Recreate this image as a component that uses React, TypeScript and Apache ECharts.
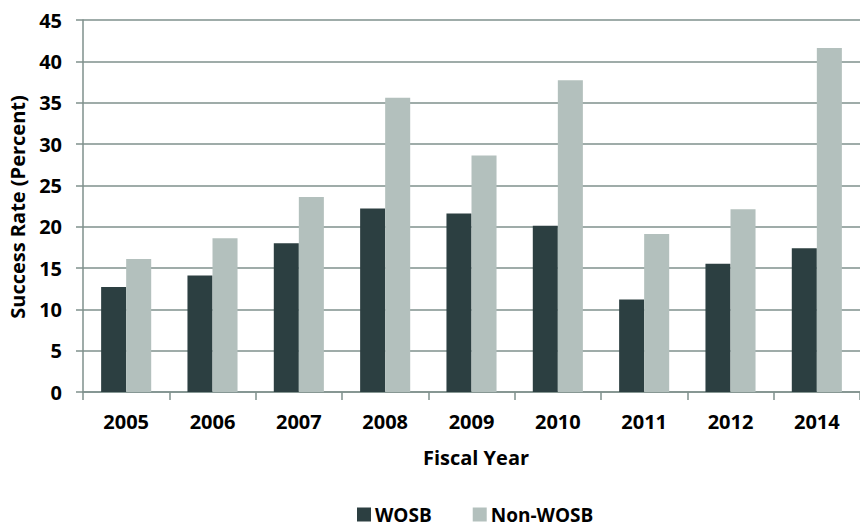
import React, { useEffect, useRef } from "react";
import * as echarts from "echarts";

const years = ["2005", "2006", "2007", "2008", "2009", "2010", "2011", "2012", "2014"];
const wosb = [12.7, 14.1, 18.0, 22.2, 21.6, 20.1, 11.2, 15.5, 17.4];
const nonWosb = [16.1, 18.6, 23.6, 35.6, 28.6, 37.7, 19.1, 22.1, 41.6];

const FONT = "'Open Sans', Lato, sans-serif";
const GRID_COLOR = "#7f908d";

export default function App() {
  const ref = useRef<HTMLDivElement>(null);

  useEffect(() => {
    if (!ref.current) return;
    const chart = echarts.init(ref.current, null, { renderer: "svg" });
    chart.setOption({
      animation: false,
      backgroundColor: "#ffffff",
      textStyle: { fontFamily: FONT },
      grid: { left: 83, top: 20, right: -9, bottom: 137, containLabel: false },
      legend: {
        left: 357,
        top: 505,
        padding: 0,
        itemWidth: 14,
        itemHeight: 14,
        itemGap: 41,
        icon: "rect",
        textStyle: {
          fontFamily: FONT,
          fontWeight: "bold",
          fontSize: 19,
          lineHeight: 17,
          color: "#000",
          padding: [0, 0, 0, -1],
        },
        data: ["WOSB", "Non-WOSB"],
      },
      xAxis: {
        type: "category",
        data: years,
        axisLine: { lineStyle: { color: GRID_COLOR, width: 1.5 } },
        axisTick: { show: true, length: 8, lineStyle: { color: GRID_COLOR, width: 1.5 } },
        axisLabel: { margin: 19, fontFamily: FONT, fontWeight: "bold", fontSize: 20, color: "#000" },
      },
      yAxis: {
        type: "value",
        min: 0,
        max: 45,
        interval: 5,
        axisLine: { show: true, lineStyle: { color: GRID_COLOR, width: 1.5 } },
        axisTick: { show: true, length: 7, lineStyle: { color: GRID_COLOR, width: 1.5 } },
        axisLabel: { margin: 21, fontFamily: FONT, fontWeight: "bold", fontSize: 20, color: "#000" },
        splitLine: { show: true, lineStyle: { color: GRID_COLOR, width: 1.5 } },
      },
      graphic: [
        {
          type: "text",
          x: 17,
          y: 207,
          rotation: Math.PI / 2,
          style: {
            text: "Success Rate (Percent)",
            fontFamily: FONT,
            fontWeight: "bold",
            fontSize: 20,
            fill: "#000",
            textAlign: "center",
            textVerticalAlign: "middle",
          },
        },
        {
          type: "text",
          x: 476,
          y: 457,
          style: {
            text: "Fiscal Year",
            fontFamily: FONT,
            fontWeight: "bold",
            fontSize: 20,
            fill: "#000",
            textAlign: "center",
            textVerticalAlign: "middle",
          },
        },
      ],
      series: [
        {
          name: "WOSB",
          type: "bar",
          data: wosb,
          barGap: "0%",
          barCategoryGap: "42%",
          itemStyle: { color: "#2c3f41" },
        },
        {
          name: "Non-WOSB",
          type: "bar",
          data: nonWosb,
          barGap: "0%",
          barCategoryGap: "42%",
          itemStyle: { color: "#b3c0bd" },
        },
      ],
    });
    return () => chart.dispose();
  }, []);

  return (
    <div
      ref={ref}
      style={{ position: "fixed", left: 0, top: 0, width: 860, height: 529, overflow: "hidden" }}
    />
  );
}
